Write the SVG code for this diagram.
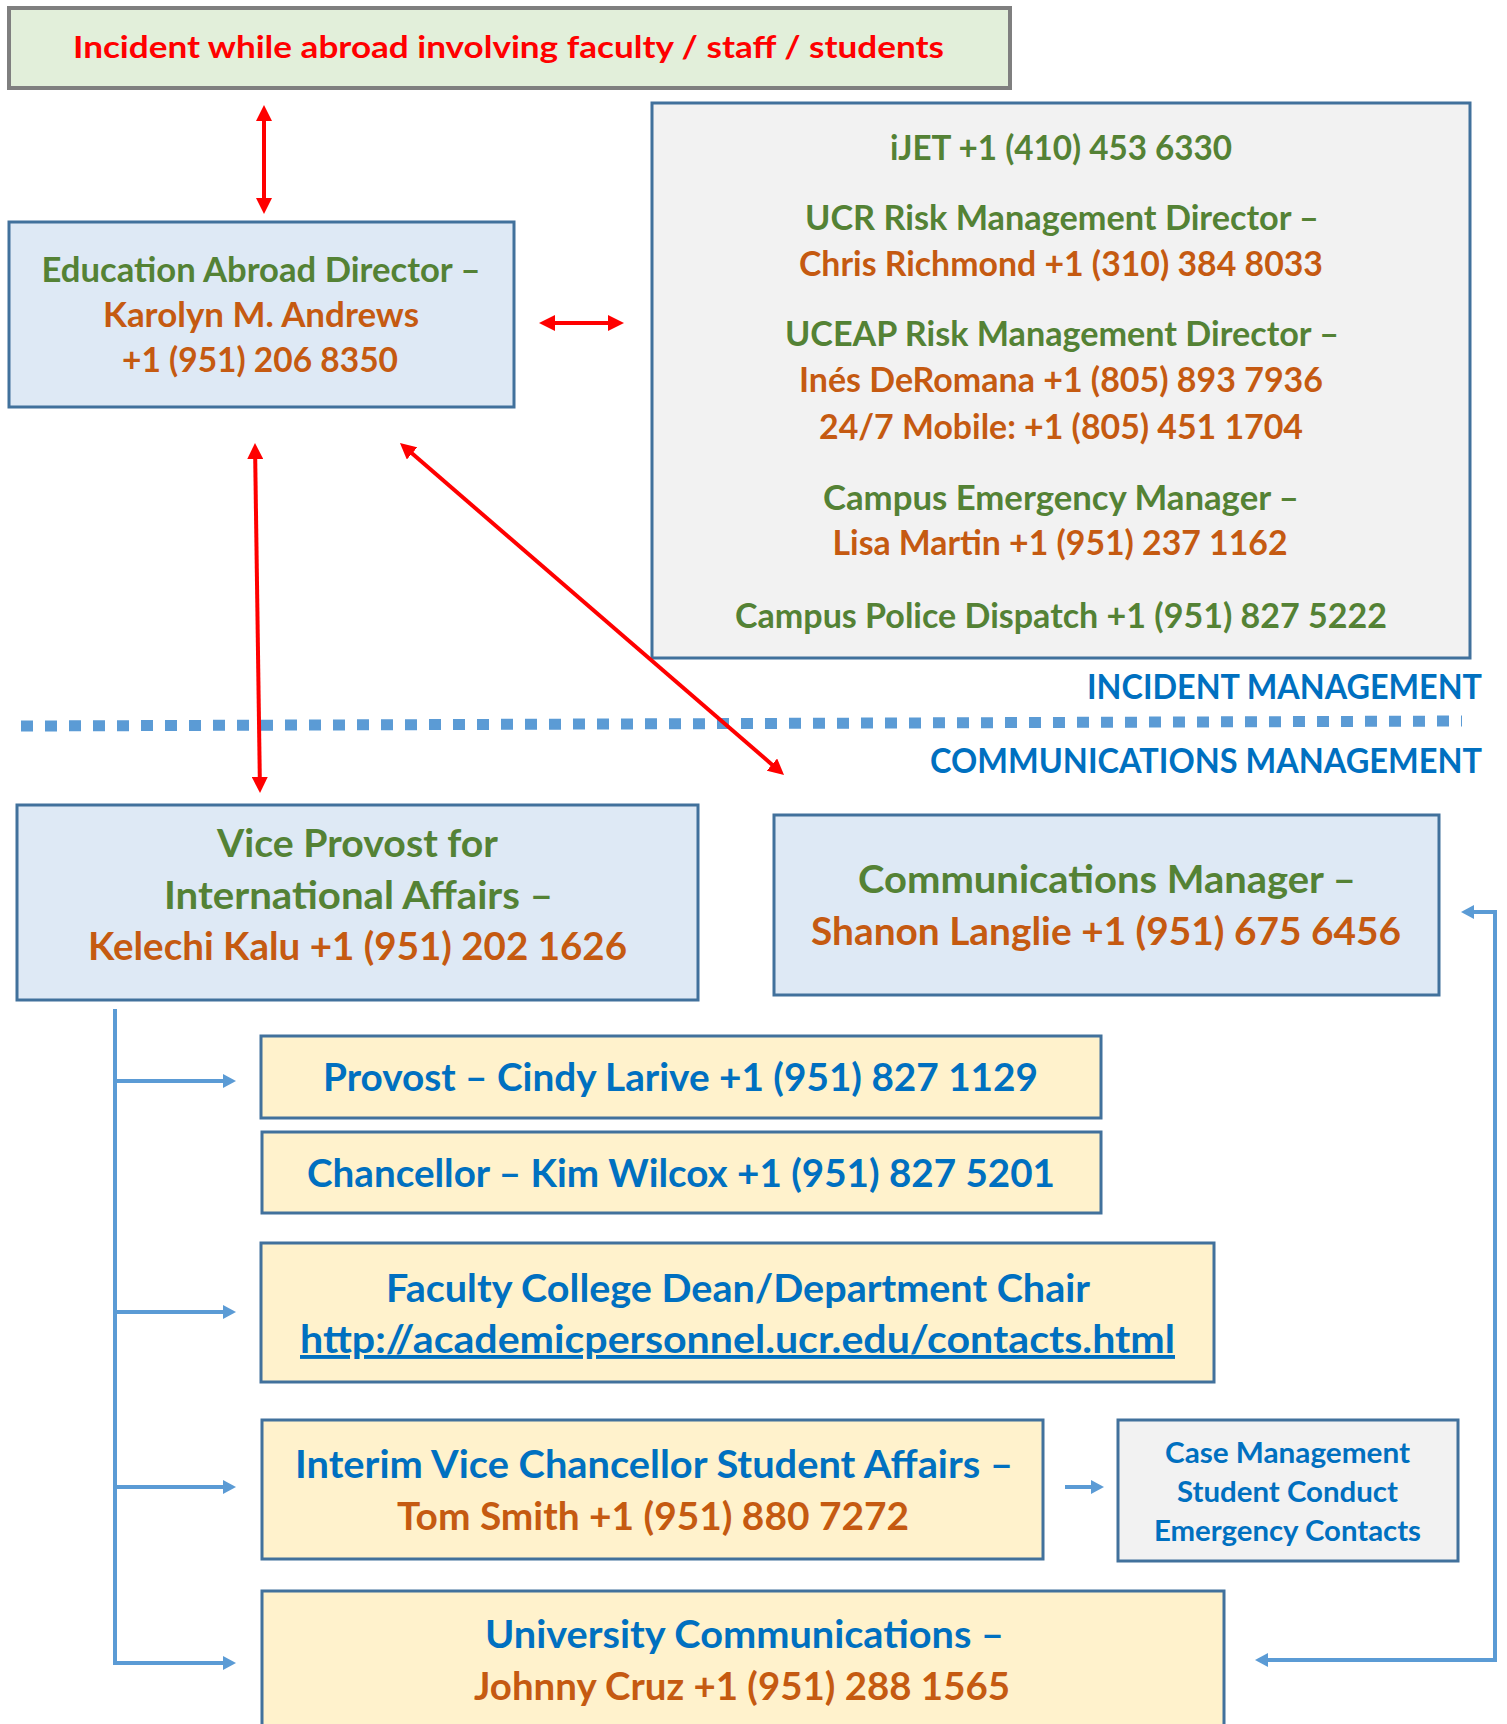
<svg xmlns="http://www.w3.org/2000/svg" width="1507" height="1724" viewBox="0 0 1507 1724">
<style>
text{font-family:Lato,"Open Sans","Liberation Sans",sans-serif;font-weight:bold;text-anchor:middle}
.g{fill:#548235}.o{fill:#c55a11}.b{fill:#0070c0}.r{fill:#ff0000}
.f34{font-size:34px}.f39{font-size:39px}.f29{font-size:29px}.f31{font-size:31px}
.bx{stroke:#41719c;stroke-width:3}
.blue{fill:#dee9f5}.yel{fill:#fff2cc}.gry{fill:#f2f2f2}
.rl{stroke:#ff0000;stroke-width:4;fill:none;marker-start:url(#ra);marker-end:url(#ra)}
.bl{stroke:#5b9bd5;stroke-width:4;fill:none}
.hd{text-anchor:end;fill:#0070c0}
</style>
<defs>
<marker id="ra" markerUnits="userSpaceOnUse" viewBox="0 0 16 16" markerWidth="16" markerHeight="16" refX="1" refY="8" orient="auto-start-reverse"><path d="M0,0 L16,8 L0,16 z" fill="#ff0000"/></marker>
<marker id="ba" markerUnits="userSpaceOnUse" viewBox="0 0 13 14" markerWidth="13" markerHeight="14" refX="1" refY="7" orient="auto-start-reverse"><path d="M0,0 L13,7 L0,14 z" fill="#5b9bd5"/></marker>
</defs>

<g id="incident">
<rect x="9" y="8" width="1001" height="80" fill="#e2efda" stroke="#7f7f7f" stroke-width="4"/>
<text x="508.5" y="58" class="r f31" textLength="871" lengthAdjust="spacingAndGlyphs">Incident while abroad involving faculty / staff / students</text>
</g>

<g id="edu-abroad">
<rect x="9" y="222" width="505" height="185" class="bx blue"/>
<text x="261" y="282" class="g f34" textLength="439" lengthAdjust="spacingAndGlyphs">Education Abroad Director –</text>
<text x="261" y="327" class="o f34" textLength="316" lengthAdjust="spacingAndGlyphs">Karolyn M. Andrews</text>
<text x="260" y="372" class="o f34" textLength="276" lengthAdjust="spacingAndGlyphs">+1 (951) 206 8350</text>
</g>

<g id="contacts">
<rect x="652" y="103" width="818" height="555" class="bx gry"/>
<text x="1061" y="160" class="g f34" textLength="342" lengthAdjust="spacingAndGlyphs">iJET +1 (410) 453 6330</text>
<text x="1062" y="230" class="g f34" textLength="514" lengthAdjust="spacingAndGlyphs">UCR Risk Management Director –</text>
<text x="1061" y="276" class="o f34" textLength="524" lengthAdjust="spacingAndGlyphs">Chris Richmond +1 (310) 384 8033</text>
<text x="1062" y="346" class="g f34" textLength="554" lengthAdjust="spacingAndGlyphs">UCEAP Risk Management Director –</text>
<text x="1061" y="392" class="o f34" textLength="524" lengthAdjust="spacingAndGlyphs">Inés DeRomana +1 (805) 893 7936</text>
<text x="1061" y="439" class="o f34" textLength="484" lengthAdjust="spacingAndGlyphs">24/7 Mobile: +1 (805) 451 1704</text>
<text x="1061" y="510" class="g f34" textLength="476" lengthAdjust="spacingAndGlyphs">Campus Emergency Manager –</text>
<text x="1060" y="555" class="o f34" textLength="455" lengthAdjust="spacingAndGlyphs">Lisa Martin +1 (951) 237 1162</text>
<text x="1061" y="628" class="g f34" textLength="652" lengthAdjust="spacingAndGlyphs">Campus Police Dispatch +1 (951) 827 5222</text>
</g>

<g id="section-labels">
<text x="1482" y="699" class="hd f34" textLength="395" lengthAdjust="spacingAndGlyphs">INCIDENT MANAGEMENT</text>
<line x1="21" y1="726" x2="1462" y2="721" stroke="#5b9bd5" stroke-width="11" stroke-dasharray="12 12"/>
<text x="1482" y="773" class="hd f34" textLength="552" lengthAdjust="spacingAndGlyphs">COMMUNICATIONS MANAGEMENT</text>
</g>

<g id="vice-provost">
<rect x="17" y="805" width="681" height="195" class="bx blue"/>
<text x="357.5" y="857" class="g f39" textLength="281" lengthAdjust="spacingAndGlyphs">Vice Provost for</text>
<text x="358.5" y="909" class="g f39" textLength="389" lengthAdjust="spacingAndGlyphs">International Affairs –</text>
<text x="357.5" y="960" class="o f39" textLength="539" lengthAdjust="spacingAndGlyphs">Kelechi Kalu +1 (951) 202 1626</text>
</g>

<g id="comm-manager">
<rect x="774" y="815" width="665" height="180" class="bx blue"/>
<text x="1107" y="893" class="g f39" textLength="498" lengthAdjust="spacingAndGlyphs">Communications Manager –</text>
<text x="1106" y="945" class="o f39" textLength="590" lengthAdjust="spacingAndGlyphs">Shanon Langlie +1 (951) 675 6456</text>
</g>

<g id="provost">
<rect x="261" y="1036" width="840" height="82" class="bx yel"/>
<text x="680.5" y="1091" class="b f39" textLength="715" lengthAdjust="spacingAndGlyphs">Provost – Cindy Larive +1 (951) 827 1129</text>
</g>

<g id="chancellor">
<rect x="262" y="1132" width="839" height="81" class="bx yel"/>
<text x="681" y="1187" class="b f39" textLength="748" lengthAdjust="spacingAndGlyphs">Chancellor – Kim Wilcox +1 (951) 827 5201</text>
</g>

<g id="faculty">
<rect x="261" y="1243" width="953" height="139" class="bx yel"/>
<text x="738" y="1302" class="b f39" textLength="704" lengthAdjust="spacingAndGlyphs">Faculty College Dean/Department Chair</text>
<text x="737.5" y="1353" class="b f39" textLength="875" lengthAdjust="spacingAndGlyphs" text-decoration="underline">http://academicpersonnel.ucr.edu/contacts.html</text>
</g>

<g id="student-affairs">
<rect x="262" y="1420" width="781" height="139" class="bx yel"/>
<text x="654" y="1478" class="b f39" textLength="718" lengthAdjust="spacingAndGlyphs">Interim Vice Chancellor Student Affairs –</text>
<text x="653" y="1530" class="o f39" textLength="512" lengthAdjust="spacingAndGlyphs">Tom Smith +1 (951) 880 7272</text>
</g>

<g id="case-management">
<rect x="1118" y="1420" width="340" height="141" class="bx gry"/>
<text x="1287.5" y="1463" class="b f29" textLength="245" lengthAdjust="spacingAndGlyphs">Case Management</text>
<text x="1287.5" y="1502" class="b f29" textLength="221" lengthAdjust="spacingAndGlyphs">Student Conduct</text>
<text x="1287.5" y="1541" class="b f29" textLength="267" lengthAdjust="spacingAndGlyphs">Emergency Contacts</text>
</g>

<g id="univ-comm">
<rect x="262" y="1591" width="962" height="150" class="bx yel"/>
<text x="744.5" y="1648" class="b f39" textLength="519" lengthAdjust="spacingAndGlyphs">University Communications –</text>
<text x="742" y="1700" class="o f39" textLength="536" lengthAdjust="spacingAndGlyphs">Johnny Cruz +1 (951) 288 1565</text>
</g>

<g id="connectors">
<line x1="264" y1="120" x2="264" y2="199" class="rl"/>
<line x1="554" y1="323" x2="609" y2="323" class="rl"/>
<line x1="255.2" y1="458" x2="259.8" y2="778" class="rl"/>
<line x1="411.3" y1="452.8" x2="772.7" y2="765.2" class="rl"/>
<line x1="115" y1="1009" x2="115" y2="1665" class="bl"/>
<line x1="113" y1="1081" x2="224" y2="1081" class="bl" marker-end="url(#ba)"/>
<line x1="113" y1="1312" x2="224" y2="1312" class="bl" marker-end="url(#ba)"/>
<line x1="113" y1="1487" x2="224" y2="1487" class="bl" marker-end="url(#ba)"/>
<line x1="113" y1="1663" x2="224" y2="1663" class="bl" marker-end="url(#ba)"/>
<line x1="1065" y1="1487" x2="1092" y2="1487" class="bl" marker-end="url(#ba)"/>
<path d="M1267,1660 L1495,1660 L1495,912 L1473,912" class="bl" marker-start="url(#ba)" marker-end="url(#ba)"/>
</g>
</svg>
